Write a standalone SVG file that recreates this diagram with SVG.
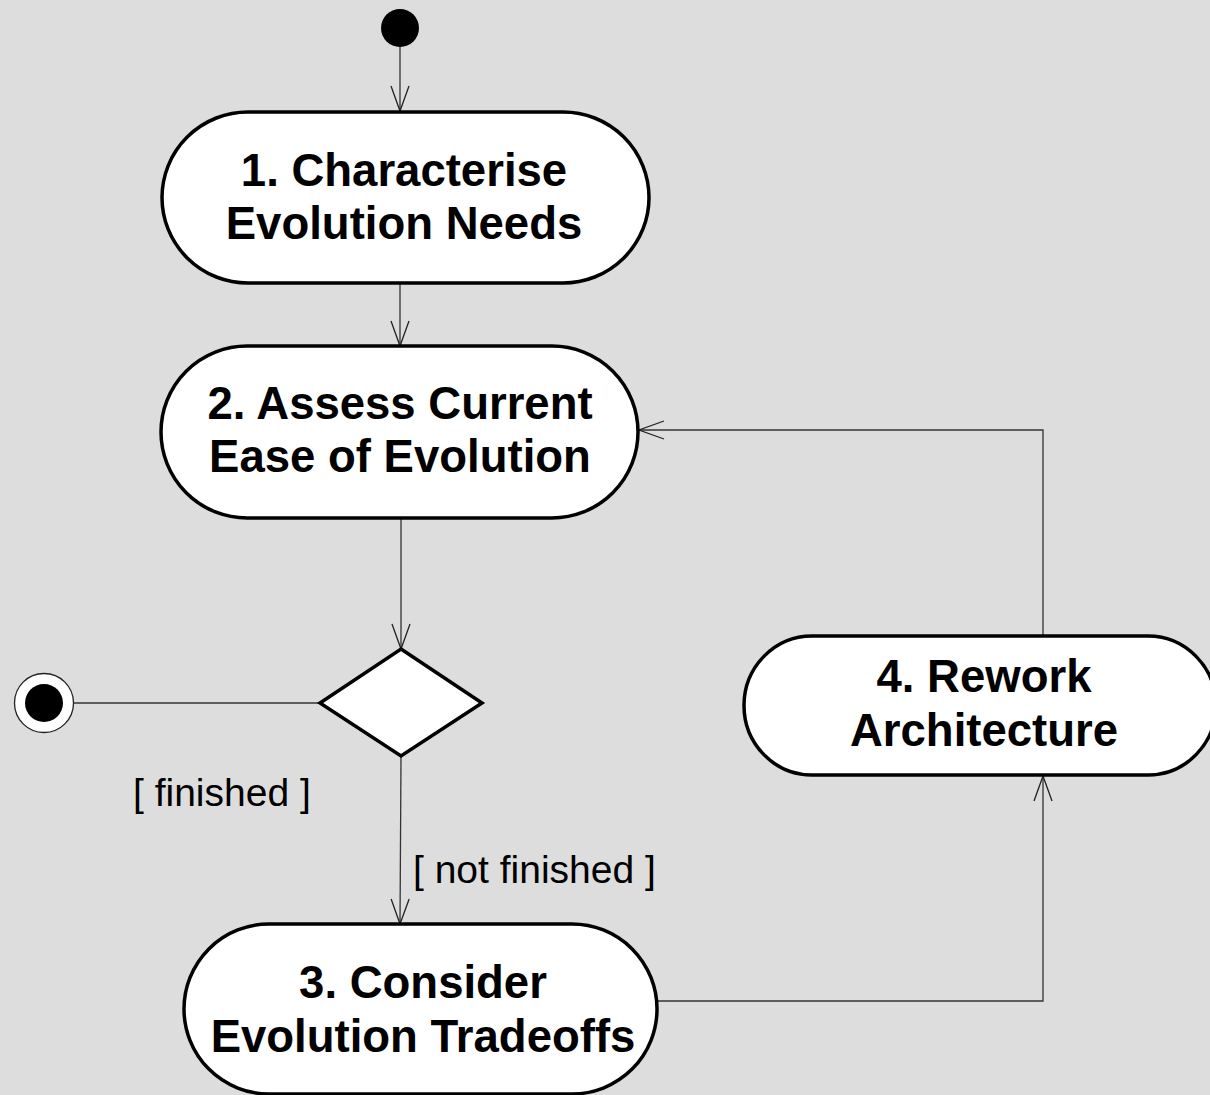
<svg xmlns="http://www.w3.org/2000/svg" width="1210" height="1095" viewBox="0 0 1210 1095">
  <style>
    .node { fill: #ffffff; stroke: #000000; stroke-width: 3.5; }
    .label { font-family: "Liberation Sans", Arial, sans-serif; font-weight: bold; font-size: 45.5px; fill: #000000; text-anchor: middle; }
    .guard { font-family: "Liberation Sans", Arial, sans-serif; font-size: 39px; fill: #000000; }
    .edge { fill: none; stroke: #333333; stroke-width: 1.3; }
  </style>
  <defs>
    <marker id="open" markerUnits="userSpaceOnUse" markerWidth="30" markerHeight="22" viewBox="-28 -11 30 22" refX="0" refY="0" orient="auto">
      <path d="M -25 -9 L 0 0 L -25 9" fill="none" stroke="#222222" stroke-width="1.3"/>
    </marker>
  </defs>

  <rect width="1210" height="1095" fill="#dddddd"/>

  <!-- connectors -->
  <g id="connectors">
    <line class="edge" x1="400" y1="46" x2="400" y2="111" marker-end="url(#open)"/>
    <line class="edge" x1="400" y1="284" x2="400" y2="346" marker-end="url(#open)"/>
    <line class="edge" x1="401" y1="518" x2="401" y2="649" marker-end="url(#open)"/>
    <line class="edge" x1="320" y1="703" x2="74" y2="703"/>
    <line class="edge" x1="401" y1="757" x2="400" y2="924" marker-end="url(#open)"/>
    <polyline class="edge" points="657,1001 1043,1001 1043,776" marker-end="url(#open)"/>
    <polyline class="edge" points="1043,635 1043,430 639,430" marker-end="url(#open)"/>
    <text class="guard" x="133" y="806">[ finished ]</text>
    <text class="guard" x="413" y="883">[ not finished ]</text>
  </g>

  <!-- initial state -->
  <g id="start">
    <circle cx="400" cy="28" r="19" fill="#000000"/>
  </g>

  <!-- final state -->
  <g id="end">
    <circle cx="44" cy="703" r="29.5" fill="#ffffff" stroke="#222222" stroke-width="1.3"/>
    <circle cx="44" cy="703" r="19" fill="#000000"/>
  </g>

  <g id="n1">
    <rect class="node" x="162" y="112" width="487" height="171" rx="86" ry="85.5"/>
    <text class="label" x="404" y="186">1. Characterise</text>
    <text class="label" x="404" y="239">Evolution Needs</text>
  </g>

  <g id="n2">
    <rect class="node" x="161" y="346" width="477" height="172" rx="86" ry="86"/>
    <text class="label" x="400" y="419">2. Assess Current</text>
    <text class="label" x="400" y="472">Ease of Evolution</text>
  </g>

  <g id="decision">
    <polygon points="401,649 482,703 401,756 320,703" fill="#ffffff" stroke="#000000" stroke-width="3.5" stroke-linejoin="miter"/>
  </g>

  <g id="n3">
    <rect class="node" x="184" y="924" width="473" height="170" rx="85" ry="85"/>
    <text class="label" x="423" y="998">3. Consider</text>
    <text class="label" x="423" y="1052">Evolution Tradeoffs</text>
  </g>

  <g id="n4">
    <rect class="node" x="744" y="636" width="472" height="139" rx="68" ry="69.5"/>
    <text class="label" x="984" y="692">4. Rework</text>
    <text class="label" x="984" y="746">Architecture</text>
  </g>
</svg>
